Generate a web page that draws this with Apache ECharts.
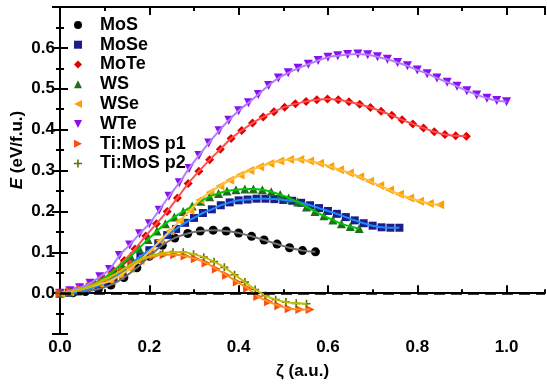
<!DOCTYPE html>
<html>
<head>
<meta charset="utf-8">
<script src="https://cdn.jsdelivr.net/npm/echarts@6/dist/echarts.min.js"></script>
<style>html,body{margin:0;padding:0;background:#fff}#c{width:547px;height:385px}</style>
</head>
<body>
<div id="c"></div>
<script>
// ---- data ----
const seriesNames = ['MoS', 'MoSe', 'MoTe', 'WS', 'WSe', 'WTe', 'Ti:MoS p1', 'Ti:MoS p2'];

const mosX = [0, 0.029, 0.057, 0.086, 0.114, 0.143, 0.172, 0.200, 0.229, 0.257, 0.286, 0.314, 0.343, 0.372, 0.400, 0.429, 0.457, 0.486, 0.514, 0.543, 0.572];
const mosE = [0.000, 0.001, 0.004, 0.010, 0.020, 0.038, 0.062, 0.090, 0.117, 0.135, 0.146, 0.152, 0.154, 0.152, 0.147, 0.139, 0.130, 0.120, 0.111, 0.104, 0.101];

const moseX = [0, 0.020, 0.040, 0.060, 0.080, 0.100, 0.120, 0.140, 0.160, 0.180, 0.200, 0.220, 0.240, 0.260, 0.280, 0.300, 0.320, 0.340, 0.360, 0.380, 0.400, 0.420, 0.440, 0.460, 0.480, 0.500, 0.520, 0.540, 0.560, 0.580, 0.600, 0.620, 0.640, 0.660, 0.680, 0.700, 0.720, 0.740, 0.760];
const moseE = [0.000, 0.001, 0.004, 0.009, 0.016, 0.025, 0.036, 0.055, 0.072, 0.090, 0.105, 0.122, 0.142, 0.157, 0.172, 0.184, 0.196, 0.205, 0.215, 0.222, 0.227, 0.229, 0.231, 0.231, 0.230, 0.228, 0.226, 0.221, 0.215, 0.208, 0.201, 0.194, 0.186, 0.178, 0.171, 0.165, 0.161, 0.160, 0.160];

const moteX = [0, 0.024, 0.048, 0.072, 0.096, 0.120, 0.144, 0.168, 0.192, 0.216, 0.240, 0.263, 0.287, 0.311, 0.335, 0.359, 0.383, 0.407, 0.431, 0.455, 0.479, 0.503, 0.527, 0.551, 0.575, 0.599, 0.623, 0.647, 0.671, 0.695, 0.719, 0.743, 0.766, 0.790, 0.814, 0.838, 0.862, 0.886, 0.910];
const moteE = [0.000, 0.004, 0.010, 0.020, 0.035, 0.055, 0.080, 0.108, 0.140, 0.170, 0.200, 0.233, 0.268, 0.298, 0.326, 0.352, 0.378, 0.398, 0.416, 0.431, 0.444, 0.455, 0.463, 0.469, 0.473, 0.475, 0.473, 0.468, 0.462, 0.454, 0.445, 0.435, 0.424, 0.414, 0.404, 0.395, 0.388, 0.385, 0.384];

const wsX = [0, 0.020, 0.039, 0.059, 0.079, 0.099, 0.118, 0.138, 0.158, 0.177, 0.197, 0.217, 0.236, 0.256, 0.276, 0.296, 0.315, 0.335, 0.355, 0.374, 0.394, 0.414, 0.433, 0.453, 0.473, 0.493, 0.512, 0.532, 0.552, 0.571, 0.591, 0.611, 0.630, 0.650, 0.670];
const wsE = [0.000, 0.003, 0.008, 0.015, 0.024, 0.036, 0.052, 0.070, 0.090, 0.110, 0.131, 0.152, 0.170, 0.186, 0.200, 0.213, 0.225, 0.236, 0.244, 0.250, 0.253, 0.255, 0.255, 0.253, 0.248, 0.241, 0.233, 0.223, 0.211, 0.200, 0.189, 0.179, 0.170, 0.163, 0.158];

const wseX = [0, 0.022, 0.045, 0.067, 0.089, 0.112, 0.134, 0.157, 0.179, 0.201, 0.224, 0.246, 0.268, 0.291, 0.313, 0.336, 0.358, 0.380, 0.403, 0.425, 0.447, 0.470, 0.492, 0.514, 0.537, 0.559, 0.581, 0.604, 0.626, 0.648, 0.671, 0.693, 0.716, 0.738, 0.760, 0.783, 0.805, 0.827, 0.850];
const wseE = [0.000, 0.003, 0.008, 0.015, 0.022, 0.030, 0.043, 0.060, 0.080, 0.102, 0.128, 0.152, 0.177, 0.202, 0.228, 0.247, 0.262, 0.276, 0.289, 0.300, 0.309, 0.317, 0.323, 0.327, 0.327, 0.323, 0.318, 0.310, 0.302, 0.294, 0.285, 0.274, 0.263, 0.252, 0.242, 0.233, 0.225, 0.219, 0.216];

const wteX = [0, 0.022, 0.044, 0.067, 0.089, 0.111, 0.133, 0.156, 0.178, 0.200, 0.222, 0.244, 0.267, 0.289, 0.311, 0.333, 0.356, 0.378, 0.400, 0.422, 0.444, 0.467, 0.489, 0.511, 0.533, 0.556, 0.578, 0.600, 0.622, 0.644, 0.667, 0.689, 0.711, 0.733, 0.756, 0.778, 0.800, 0.822, 0.844, 0.867, 0.889, 0.911, 0.933, 0.956, 0.978, 1.000];
const wteE = [0.000, 0.006, 0.013, 0.024, 0.040, 0.058, 0.092, 0.118, 0.145, 0.170, 0.203, 0.237, 0.270, 0.305, 0.337, 0.367, 0.397, 0.423, 0.446, 0.466, 0.486, 0.508, 0.526, 0.539, 0.550, 0.560, 0.569, 0.577, 0.581, 0.584, 0.585, 0.583, 0.578, 0.572, 0.564, 0.556, 0.546, 0.537, 0.526, 0.516, 0.506, 0.495, 0.485, 0.477, 0.471, 0.468];

const p1X = [0, 0.023, 0.047, 0.070, 0.093, 0.117, 0.140, 0.163, 0.187, 0.210, 0.233, 0.257, 0.280, 0.303, 0.327, 0.350, 0.373, 0.397, 0.420, 0.443, 0.467, 0.490, 0.513, 0.537, 0.560];
const p1E = [0.000, 0.004, 0.010, 0.018, 0.030, 0.042, 0.057, 0.072, 0.084, 0.091, 0.094, 0.094, 0.091, 0.084, 0.074, 0.059, 0.044, 0.027, 0.012, -0.008, -0.021, -0.031, -0.038, -0.040, -0.040];

const p2X = [0, 0.023, 0.046, 0.069, 0.092, 0.115, 0.138, 0.161, 0.184, 0.207, 0.230, 0.253, 0.276, 0.299, 0.322, 0.345, 0.368, 0.391, 0.414, 0.437, 0.460, 0.483, 0.506, 0.529, 0.552];
const p2E = [0.000, 0.003, 0.009, 0.017, 0.028, 0.041, 0.056, 0.071, 0.084, 0.093, 0.098, 0.100, 0.100, 0.095, 0.088, 0.077, 0.063, 0.045, 0.027, 0.009, -0.006, -0.016, -0.022, -0.025, -0.026];

const xTickValues = [0, 0.2, 0.4, 0.6, 0.8, 1.0];
const yTickValues = [0, 0.1, 0.2, 0.3, 0.4, 0.5, 0.6];

// ---- styling ----
const FONT = '"Liberation Sans", Arial, Helvetica, sans-serif';
const seriesX = [mosX, moseX, moteX, wsX, wseX, wteX, p1X, p2X];
const seriesE = [mosE, moseE, moteE, wsE, wseE, wteE, p1E, p2E];
const markerColors = ['#000000', '#1c1c8a', '#e00000', '#1f6e1f', '#ffa000', '#8a10f0', '#ff4a10', '#6a6a00'];
const lineColors = ['#707070', '#1a8cff', '#ff5050', '#00c800', '#ffc040', '#b080ff', '#ff9020', '#c0c000'];
const symbols = [
  'circle',
  'path://M0,0H10V10H0Z',
  'path://M5,0L10,5L5,10L0,5Z',
  'path://M5,0L10,10L0,10Z',
  'path://M0,5L10,0L10,10Z',
  'path://M0,0L10,0L5,10Z',
  'path://M10,5L0,0L0,10Z',
  'path://M4,0H6V4H10V6H6V10H4V6H0V4H4Z'
];
const symSizes = [9, 8, 9, 9, 9, 9, 9, 8];

const series = [];
seriesNames.forEach((name, i) => {
  const pts = seriesX[i].map((x, k) => [x, seriesE[i][k]]);
  series.push({
    name: name, type: 'scatter', data: pts,
    symbol: symbols[i], symbolSize: symSizes[i],
    itemStyle: { color: markerColors[i], opacity: 1 },
    z: 2 + i * 0.01, silent: true
  });
  series.push({
    name: name + ' fit', type: 'line', data: pts, smooth: 0.4,
    showSymbol: false, symbol: 'none',
    lineStyle: { color: lineColors[i], width: 2 },
    itemStyle: { color: lineColors[i] },
    z: 3 + i * 0.01, silent: true
  });
});
// dashed zero line
series.push({
  name: 'zero', type: 'line', data: [], silent: true,
  markLine: {
    silent: true, symbol: 'none', label: { show: false },
    lineStyle: { color: '#000', width: 2.5, type: [11, 6] },
    data: [{ yAxis: 0 }]
  },
  z: 1
});

const fmt = v => (Math.abs(v) < 1e-9 ? 0 : v).toFixed(1);
const xLabelFmt = v => xTickValues.some(t => Math.abs(t - v) < 1e-6) ? fmt(v) : '';
const yLabelFmt = v => yTickValues.some(t => Math.abs(t - v) < 1e-6) ? fmt(v) : '';

const baseX = { type: 'value', min: 0, max: 1.086, gridIndex: 0, splitLine: { show: false } };
const axisLineStyle = { show: true, lineStyle: { color: '#000', width: 2 } };

const option = {
  animation: false,
  backgroundColor: '#fff',
  grid: { left: 60, right: 2, top: 7, bottom: 42, containLabel: false },
  legend: {
    orient: 'vertical', left: 69, top: 10, padding: 5,
    itemWidth: 34, itemHeight: 8, itemGap: 0,
    textStyle: { fontFamily: FONT, fontWeight: 'bold', fontSize: 18, color: '#000', lineHeight: 19.8 },
    data: seriesNames.map((n, i) => ({ name: n, icon: symbols[i] })),
    selectedMode: false
  },
  xAxis: [
    Object.assign({}, baseX, {
      position: 'bottom', interval: 0.2,
      axisLine: axisLineStyle,
      axisTick: { show: true, inside: true, length: 8, lineStyle: { color: '#000', width: 2 } },
      axisLabel: { formatter: xLabelFmt, fontFamily: FONT, fontWeight: 'bold', fontSize: 17, color: '#000', margin: 5, showMaxLabel: false },
      name: 'ζ (a.u.)', nameLocation: 'middle', nameGap: 29,
      nameTextStyle: { fontFamily: FONT, fontWeight: 'bold', fontSize: 17, color: '#000' }
    }),
    Object.assign({}, baseX, {
      position: 'bottom', interval: 0.1,
      axisLine: { show: false },
      axisTick: { show: true, inside: true, length: 4, lineStyle: { color: '#000', width: 2 } },
      axisLabel: { show: false }
    }),
    Object.assign({}, baseX, {
      position: 'top', interval: 0.2,
      axisLine: axisLineStyle,
      axisTick: { show: true, inside: true, length: 8, lineStyle: { color: '#000', width: 2 } },
      axisLabel: { show: false }
    }),
    Object.assign({}, baseX, {
      position: 'top', interval: 0.1,
      axisLine: { show: false },
      axisTick: { show: true, inside: true, length: 4, lineStyle: { color: '#000', width: 2 } },
      axisLabel: { show: false }
    })
  ],
  yAxis: [
    {
      type: 'value', min: -0.1, max: 0.7, interval: 0.1, position: 'left',
      splitLine: { show: false },
      axisLine: axisLineStyle,
      axisTick: { show: true, inside: true, length: 8, lineStyle: { color: '#000', width: 2 } },
      minorTick: { show: true, splitNumber: 2, length: 4, lineStyle: { color: '#000', width: 2 } },
      axisLabel: { formatter: yLabelFmt, fontFamily: FONT, fontWeight: 'bold', fontSize: 17, color: '#000', margin: 5 }
    },
    {
      type: 'value', min: -0.1, max: 0.7, interval: 0.1, position: 'right',
      splitLine: { show: false },
      axisLine: axisLineStyle,
      axisTick: { show: true, inside: true, length: 8, lineStyle: { color: '#000', width: 2 } },
      minorTick: { show: true, splitNumber: 2, length: 4, lineStyle: { color: '#000', width: 2 } },
      axisLabel: { show: false }
    }
  ],
  graphic: [{
    type: 'text', x: 17, y: 150, rotation: Math.PI / 2,
    style: {
      text: '{i|E} (eV/f.u.)',
      fontFamily: FONT, fontWeight: 'bold', fontSize: 17, fill: '#000',
      textAlign: 'center', textVerticalAlign: 'middle',
      rich: { i: { fontStyle: 'italic', fontWeight: 'bold', fontFamily: FONT, fontSize: 17, fill: '#000' } }
    },
    z: 100
  }],
  series: series
};

const chart = echarts.init(document.getElementById('c'), null, { renderer: 'canvas' });
chart.setOption(option);
</script>
</body>
</html>
